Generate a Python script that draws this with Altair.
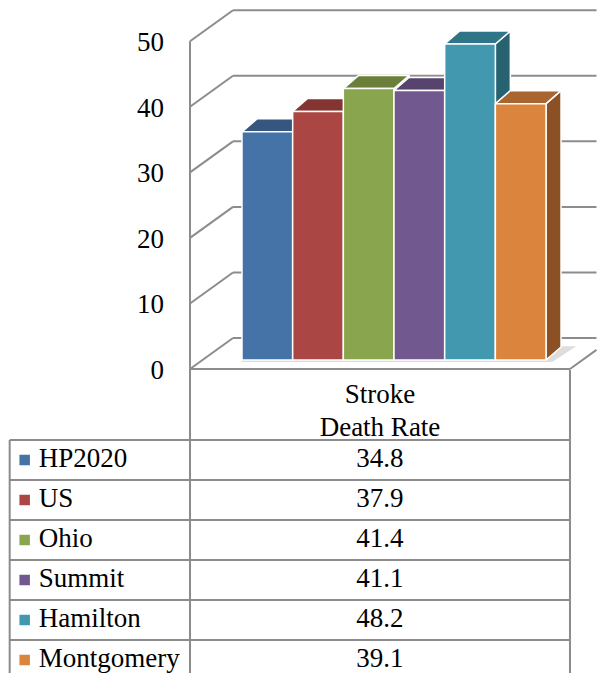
import altair as alt
import pandas as pd

# ---------------- data ----------------
categories = ["HP2020", "US", "Ohio", "Summit", "Hamilton", "Montgomery"]
values = [34.8, 37.9, 41.4, 41.1, 48.2, 39.1]
y_ticks = [0, 10, 20, 30, 40, 50]
header_lines = ["Stroke", "Death Rate"]

# ---------------- style ----------------
front_colors = ["#4572A7", "#AA4643", "#89A54E", "#71588F", "#4198AF", "#DB843D"]
top_colors = ["#34567F", "#843431", "#6A803A", "#56436E", "#2F7487", "#A9652F"]
side_colors = ["#2A4A6E", "#70292A", "#5A6D31", "#4A3A5F", "#26626F", "#8B5125"]
GRID = "#8C8C8C"
FONT = "Liberation Serif"
FS = 27

W = 590
H_TOP = 362
H_TAB = 303

# projection / layout constants
PX_U = 50.67          # px per category unit
PX_V = 6.556          # px per value unit
U0_PX = 234           # px position of first bar
BASE_PX = 352         # px position of value 0 on bar plane
BAR_DX = 15 / PX_U
BAR_DY = 13 / PX_V
WALL_U = -1.026
WALL_DV = -1.373
DEPTH_U = 43 / PX_U
DEPTH_V = 31 / PX_V
FLOOR_R_U = 6.473
TAB_L_U = -4.585
ROW_PX = 40.0
HEADER = 70 / ROW_PX

X_MIN = -U0_PX / PX_U
X_MAX = (W - U0_PX) / PX_U
X_END = X_MAX - 0.03
Y_MIN = (BASE_PX - H_TOP) / PX_V
Y_MAX = BASE_PX / PX_V
T_MIN = -HEADER
T_MAX = T_MIN + H_TAB / ROW_PX

xs = alt.Scale(domain=[X_MIN, X_MAX], nice=False, zero=False)
ys = alt.Scale(domain=[Y_MIN, Y_MAX], nice=False, zero=False)
ts = alt.Scale(domain=[T_MIN, T_MAX], nice=False, zero=False, reverse=True)

# ---------------- 3D chart panel ----------------
walls = []
for t in y_ticks:
    yf = t + WALL_DV
    yb = yf + DEPTH_V
    walls.append(dict(x=WALL_U, x2=WALL_U + DEPTH_U, y=yf, y2=yb))
    walls.append(dict(x=WALL_U + DEPTH_U, x2=X_END, y=yb, y2=yb))
walls.append(dict(x=WALL_U, x2=WALL_U, y=y_ticks[-1] + WALL_DV, y2=Y_MIN))
walls.append(dict(x=WALL_U, x2=FLOOR_R_U, y=WALL_DV, y2=WALL_DV))
frac = (X_END - FLOOR_R_U) / DEPTH_U
walls.append(dict(x=FLOOR_R_U, x2=X_END, y=WALL_DV, y2=WALL_DV + DEPTH_V * frac))
walls_df = pd.DataFrame(walls)

wall_layer = alt.Chart(walls_df).mark_rule(color=GRID, strokeWidth=2).encode(
    x=alt.X("x:Q", scale=xs, axis=None), x2="x2:Q",
    y=alt.Y("y:Q", scale=ys, axis=None), y2="y2:Q",
)

ticks_df = pd.DataFrame({"t": y_ticks, "x": WALL_U, "y": [t + WALL_DV for t in y_ticks]})
tick_labels = alt.Chart(ticks_df).mark_text(
    align="right", baseline="middle", dx=-26, dy=2, font=FONT, fontSize=FS, color="black"
).encode(
    x=alt.X("x:Q", scale=xs, axis=None),
    y=alt.Y("y:Q", scale=ys, axis=None),
    text="t:Q",
)

n = len(categories)
fronts, tops, sides = [], [], []
for i, (c, v) in enumerate(zip(categories, values)):
    fronts.append(dict(cat=c, x=i, x2=i + 1, y=v, y2=0))
    top_pts = [(i, v), (i + 1, v), (i + 1 + BAR_DX, v + BAR_DY), (i + BAR_DX, v + BAR_DY), (i, v)]
    side_pts = [(i + 1, 0), (i + 1 + BAR_DX, BAR_DY), (i + 1 + BAR_DX, v + BAR_DY), (i + 1, v), (i + 1, 0)]
    for k, (px, py) in enumerate(top_pts):
        tops.append(dict(cat=c, k=k, x=px, y=py))
    for k, (px, py) in enumerate(side_pts):
        sides.append(dict(cat=c, k=k, x=px, y=py))

# soft shadow of the bar footprint on the floor
shadow_pts = [(-0.02, -0.32), (n + 0.12, -0.32), (n + BAR_DX + 0.3, BAR_DY + 0.1),
              (BAR_DX, BAR_DY + 0.1), (-0.02, -0.32)]
shadow_df = pd.DataFrame([dict(g="s", k=k, x=px, y=py) for k, (px, py) in enumerate(shadow_pts)])
shadow_layer = alt.Chart(shadow_df).mark_line(
    filled=True, fill="#D4D4D4", strokeWidth=0, opacity=0.8
).encode(
    x=alt.X("x:Q", scale=xs, axis=None),
    y=alt.Y("y:Q", scale=ys, axis=None),
    detail="g:N",
    order="k:Q",
)


def face_layer(rows, colors):
    return alt.Chart(pd.DataFrame(rows)).mark_line(
        filled=True, stroke="white", strokeWidth=1.5, strokeJoin="round", opacity=1
    ).encode(
        x=alt.X("x:Q", scale=xs, axis=None),
        y=alt.Y("y:Q", scale=ys, axis=None),
        detail="cat:N",
        order="k:Q",
        color=alt.Color("cat:N", scale=alt.Scale(domain=categories, range=colors), legend=None),
    )


side_layer = face_layer(sides, side_colors)
top_layer = face_layer(tops, top_colors)

front_layer = alt.Chart(pd.DataFrame(fronts)).mark_rect(
    stroke="white", strokeWidth=1.5
).encode(
    x=alt.X("x:Q", scale=xs, axis=None), x2="x2:Q",
    y=alt.Y("y:Q", scale=ys, axis=None), y2="y2:Q",
    color=alt.Color("cat:N", scale=alt.Scale(domain=categories, range=front_colors), legend=None),
)

top_panel = alt.layer(
    wall_layer, shadow_layer, side_layer, top_layer, front_layer, tick_labels
).resolve_scale(color="independent").properties(width=W, height=H_TOP)

# ---------------- data table panel ----------------
rules = []
for k in range(n):
    rules.append(dict(x=TAB_L_U, x2=FLOOR_R_U, y=k, y2=k))
rules.append(dict(x=TAB_L_U, x2=TAB_L_U, y=0, y2=T_MAX))
rules.append(dict(x=WALL_U, x2=WALL_U, y=T_MIN, y2=T_MAX))
rules.append(dict(x=FLOOR_R_U, x2=FLOOR_R_U, y=T_MIN, y2=T_MAX))
rules_df = pd.DataFrame(rules)

table_rules = alt.Chart(rules_df).mark_rule(color=GRID, strokeWidth=2, clip=True).encode(
    x=alt.X("x:Q", scale=xs, axis=None), x2="x2:Q",
    y=alt.Y("y:Q", scale=ts, axis=None), y2="y2:Q",
)

rows_df = pd.DataFrame({
    "cat": categories,
    "val": values,
    "y": [k + 0.5 for k in range(n)],
    "xl": TAB_L_U,
    "xs": TAB_L_U + 15 / PX_U,
    "xv": (WALL_U + FLOOR_R_U) / 2,
})

squares = alt.Chart(rows_df).mark_square(size=110, opacity=1).encode(
    x=alt.X("xs:Q", scale=xs, axis=None),
    y=alt.Y("y:Q", scale=ts, axis=None),
    color=alt.Color("cat:N", scale=alt.Scale(domain=categories, range=front_colors), legend=None),
)

row_labels = alt.Chart(rows_df).mark_text(
    align="left", baseline="middle", dx=29, dy=-1, font=FONT, fontSize=FS, color="black", clip=True
).encode(
    x=alt.X("xl:Q", scale=xs, axis=None),
    y=alt.Y("y:Q", scale=ts, axis=None),
    text="cat:N",
)

row_values = alt.Chart(rows_df).mark_text(
    align="center", baseline="middle", dy=-1, font=FONT, fontSize=FS, color="black", clip=True
).encode(
    x=alt.X("xv:Q", scale=xs, axis=None),
    y=alt.Y("y:Q", scale=ts, axis=None),
    text=alt.Text("val:Q", format=".1f"),
)

header_df = pd.DataFrame({
    "label": ["\n".join(header_lines)],
    "x": [(WALL_U + FLOOR_R_U) / 2],
    "y": [-1.12],
})
header = alt.Chart(header_df).mark_text(
    align="center", baseline="middle", lineBreak="\n", lineHeight=33,
    font=FONT, fontSize=FS, color="black"
).encode(
    x=alt.X("x:Q", scale=xs, axis=None),
    y=alt.Y("y:Q", scale=ts, axis=None),
    text="label:N",
)

table_panel = alt.layer(table_rules, squares, row_labels, row_values, header).properties(
    width=W, height=H_TAB
)

chart = alt.vconcat(top_panel, table_panel, spacing=0, bounds="flush").properties(
    padding=0
).configure_view(stroke=None)

chart.save("out.html", embed_options={"renderer": "svg", "actions": False})
